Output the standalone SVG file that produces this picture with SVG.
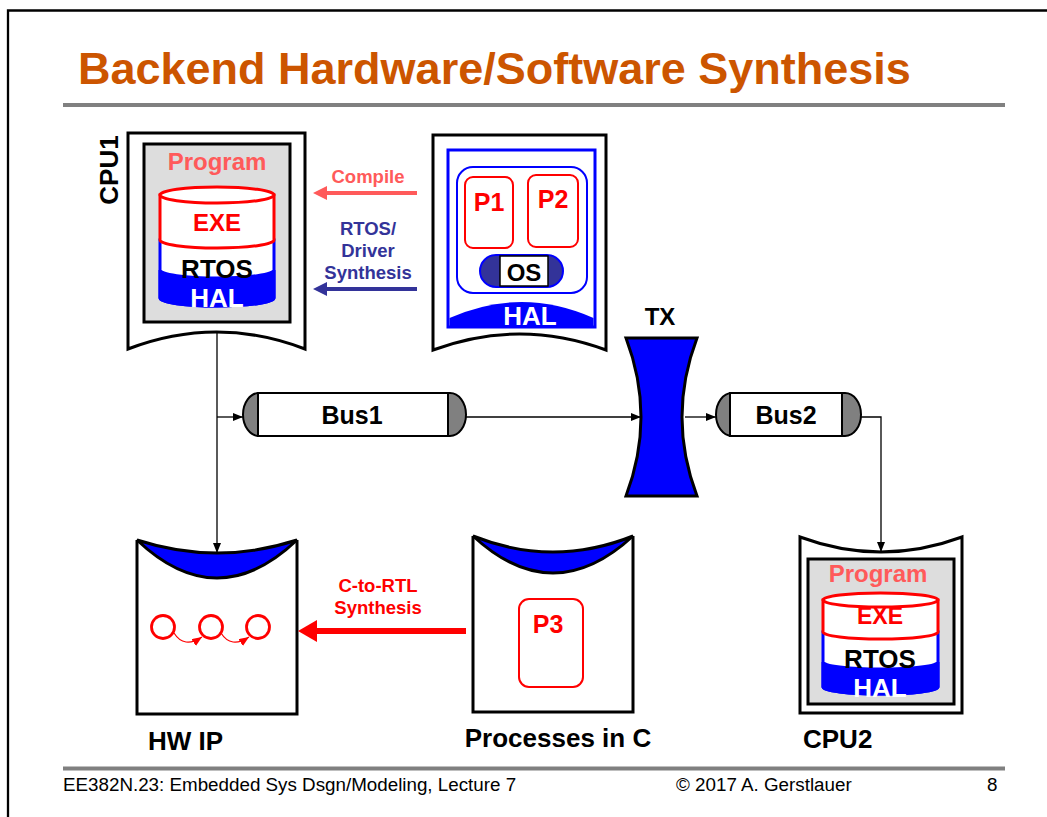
<svg xmlns="http://www.w3.org/2000/svg" width="1047" height="817" viewBox="0 0 1047 817">
<style>
text{font-family:"Liberation Sans",Arial,sans-serif;font-weight:bold}
.k{stroke:#000;stroke-width:3;fill:#fff}
.g{fill:#ddd;stroke:#000;stroke-width:3}
.lbl{font-size:26px;fill:#000}
.sal{fill:#FF5A5A}
.rd{fill:#f00}
.dk{fill:#333399}
.wh{fill:#fff}
.conn{stroke:#000;stroke-width:1.3;fill:none}
.foot{font-weight:normal;font-size:18.8px;fill:#000}
</style>
<defs>
<marker id="ah" markerUnits="userSpaceOnUse" markerWidth="11" markerHeight="9" refX="10" refY="4" orient="auto"><path d="M0,0 L10,4 L0,8 Z" fill="#000"/></marker>
<marker id="ahr" markerUnits="userSpaceOnUse" markerWidth="11" markerHeight="9" refX="10" refY="4" orient="auto"><path d="M0,0 L10,4 L0,8 Z" fill="#f00"/></marker>
</defs>
<rect width="1047" height="817" fill="#fff"/>
<path d="M8,817 V10.5 H1047" fill="none" stroke="#000" stroke-width="2.3"/>
<text x="78" y="84" font-size="45" fill="#CC5500">Backend Hardware/Software Synthesis</text>
<line x1="63" y1="105" x2="1005" y2="105" stroke="#808080" stroke-width="4"/>
<line x1="63" y1="768.5" x2="1005" y2="768.5" stroke="#808080" stroke-width="4"/>
<text class="foot" x="63" y="791">EE382N.23: Embedded Sys Dsgn/Modeling, Lecture 7</text>
<text class="foot" x="676" y="791">© 2017 A. Gerstlauer</text>
<text class="foot" x="987" y="791">8</text>

<g id="labels">
<text x="368" y="183" font-size="18.5" text-anchor="middle" class="sal">Compile</text>
<text x="368" y="235" font-size="18.5" text-anchor="middle" class="dk">RTOS/</text>
<text x="368" y="257" font-size="18.5" text-anchor="middle" class="dk">Driver</text>
<text x="368" y="279" font-size="18.5" text-anchor="middle" class="dk">Synthesis</text>
<text x="378" y="592" font-size="18.5" text-anchor="middle" class="rd">C-to-RTL</text>
<text x="378" y="614" font-size="18.5" text-anchor="middle" class="rd">Synthesis</text>
</g>

<g id="cpu1">
<path class="k" d="M128,133 H305 V349 Q216.5,315 128,349 Z"/>
<rect class="g" x="144" y="144" width="146" height="178"/>
<text x="217" y="170" font-size="24" text-anchor="middle" class="sal">Program</text>
<path d="M160,240 V298 A57,8 0 0 0 274,298 V240 Z" fill="#fff" stroke="#00f" stroke-width="3"/>
<path d="M160,270 A57,8 0 0 0 274,270 V298 A57,8 0 0 1 160,298 Z" fill="#00f" stroke="#00f" stroke-width="3"/>
<path d="M160,195 V240 A57,8 0 0 0 274,240 V195 Z" fill="#fff" stroke="#f00" stroke-width="3"/>
<ellipse cx="217" cy="195" rx="57" ry="8" fill="#fff" stroke="#f00" stroke-width="3"/>
<text x="217" y="231" font-size="24" text-anchor="middle" class="rd">EXE</text>
<text x="217" y="278" font-size="26" text-anchor="middle">RTOS</text>
<text x="217" y="307" font-size="26" text-anchor="middle" class="wh">HAL</text>
<text class="lbl" font-size="25" text-anchor="middle" transform="translate(118,170) rotate(-90)">CPU1</text>
</g>

<g id="software">
<path class="k" d="M433,135 H606 V350 Q519.5,318 433,350 Z"/>
<rect x="448" y="150" width="147" height="177" fill="#fff" stroke="#00f" stroke-width="3"/>
<path d="M449.5,326 V318 Q521.5,286 593.5,318 V326 Z" fill="#00f"/>
<text x="530" y="325" font-size="26" text-anchor="middle" class="wh">HAL</text>
<rect x="457" y="167" width="130" height="126" rx="16" fill="#fff" stroke="#00f" stroke-width="2"/>
<rect x="465" y="177" width="48" height="71" rx="8" fill="#fff" stroke="#f00" stroke-width="2"/>
<text x="489" y="211" font-size="25" text-anchor="middle" class="rd">P1</text>
<rect x="528" y="175" width="50" height="72" rx="8" fill="#fff" stroke="#f00" stroke-width="2"/>
<text x="553" y="208" font-size="25" text-anchor="middle" class="rd">P2</text>
<rect x="480" y="255" width="83" height="32" rx="16" fill="#333399" stroke="#00f" stroke-width="2"/>
<rect x="500" y="256" width="48" height="30" fill="#fff" stroke="#000" stroke-width="1.5"/>
<text x="524" y="281" font-size="24" text-anchor="middle">OS</text>
</g>

<g id="bus1">
<rect x="243" y="393" width="223" height="43" rx="16" ry="21.5" fill="#808080" stroke="#000" stroke-width="2"/>
<rect x="258" y="393" width="190" height="43" fill="#fff" stroke="#000" stroke-width="2"/>
<text x="352" y="424" font-size="25" text-anchor="middle">Bus1</text>
</g>

<g id="tx">
<path d="M626,338 L697,338 Q667,417 697,496 L626,496 Q656,417 626,338 Z" fill="#00f" stroke="#000" stroke-width="3"/>
<text x="660" y="325" font-size="24" text-anchor="middle">TX</text>
</g>

<g id="bus2">
<rect x="716" y="393" width="145" height="43" rx="16" ry="21.5" fill="#808080" stroke="#000" stroke-width="2"/>
<rect x="730" y="393" width="112" height="43" fill="#fff" stroke="#000" stroke-width="2"/>
<text x="786" y="424" font-size="25" text-anchor="middle">Bus2</text>
</g>

<g id="hwip">
<path class="k" d="M137,540 V714 H297 V540"/>
<path d="M137,540 Q217,566 297,540 Q217,616 137,540 Z" fill="#00f" stroke="#000" stroke-width="3"/>
<circle cx="163" cy="627" r="11.5" fill="none" stroke="#f00" stroke-width="2.8"/>
<circle cx="211" cy="627" r="11.5" fill="none" stroke="#f00" stroke-width="2.8"/>
<circle cx="258" cy="627" r="11.5" fill="none" stroke="#f00" stroke-width="2.8"/>
<path d="M174,633 Q184,649 202,637" fill="none" stroke="#f00" stroke-width="1.2" marker-end="url(#ahr)"/>
<path d="M221,633 Q231,649 249,637" fill="none" stroke="#f00" stroke-width="1.2" marker-end="url(#ahr)"/>
<text class="lbl" x="148" y="750">HW IP</text>
</g>

<g id="processes">
<path class="k" d="M473,536 V712 H633 V536"/>
<path d="M473,536 Q553,568 633,536 Q553,610 473,536 Z" fill="#00f" stroke="#000" stroke-width="3"/>
<rect x="519" y="599" width="64" height="88" rx="10" fill="#fff" stroke="#f00" stroke-width="2"/>
<text x="548" y="633" font-size="25" text-anchor="middle" class="rd">P3</text>
<text class="lbl" x="558" y="747" text-anchor="middle">Processes in C</text>
</g>

<g id="cpu2">
<path class="k" d="M800,537 Q881,567 962,537 V713 H800 Z"/>
<rect class="g" x="808" y="559" width="146" height="145"/>
<text x="878" y="582" font-size="24" text-anchor="middle" class="sal">Program</text>
<path d="M823,632 V687 A57.5,7 0 0 0 938,687 V632 Z" fill="#fff" stroke="#00f" stroke-width="3"/>
<path d="M823,662 A57.5,7 0 0 0 938,662 V687 A57.5,7 0 0 1 823,687 Z" fill="#00f" stroke="#00f" stroke-width="3"/>
<path d="M823,600 V632 A57.5,7 0 0 0 938,632 V600 Z" fill="#fff" stroke="#f00" stroke-width="3"/>
<ellipse cx="880.5" cy="600" rx="57.5" ry="7" fill="#fff" stroke="#f00" stroke-width="3"/>
<text x="880" y="624" font-size="23" text-anchor="middle" class="rd">EXE</text>
<text x="880" y="668" font-size="26" text-anchor="middle">RTOS</text>
<text x="880" y="697" font-size="26" text-anchor="middle" class="wh">HAL</text>
<text class="lbl" x="803" y="748">CPU2</text>
</g>

<g id="connectors">
<line class="conn" x1="217" y1="333" x2="217" y2="553" marker-end="url(#ah)"/>
<line class="conn" x1="217" y1="417" x2="243" y2="417" marker-end="url(#ah)"/>
<line class="conn" x1="466" y1="417" x2="641" y2="417" marker-end="url(#ah)"/>
<line class="conn" x1="685" y1="417" x2="716" y2="417" marker-end="url(#ah)"/>
<path class="conn" d="M861,417 H881 V552" marker-end="url(#ah)"/>
<line x1="417" y1="193" x2="324" y2="193" stroke="#FF5A5A" stroke-width="4"/>
<path d="M313,193 L327,186 L327,200 Z" fill="#FF5A5A"/>
<line x1="417" y1="289" x2="324" y2="289" stroke="#333399" stroke-width="4"/>
<path d="M313,289 L327,282 L327,296 Z" fill="#333399"/>
<line x1="466" y1="631" x2="312" y2="631" stroke="#f00" stroke-width="6"/>
<path d="M298,631 L317,620 L317,642 Z" fill="#f00"/>
</g>
</svg>
